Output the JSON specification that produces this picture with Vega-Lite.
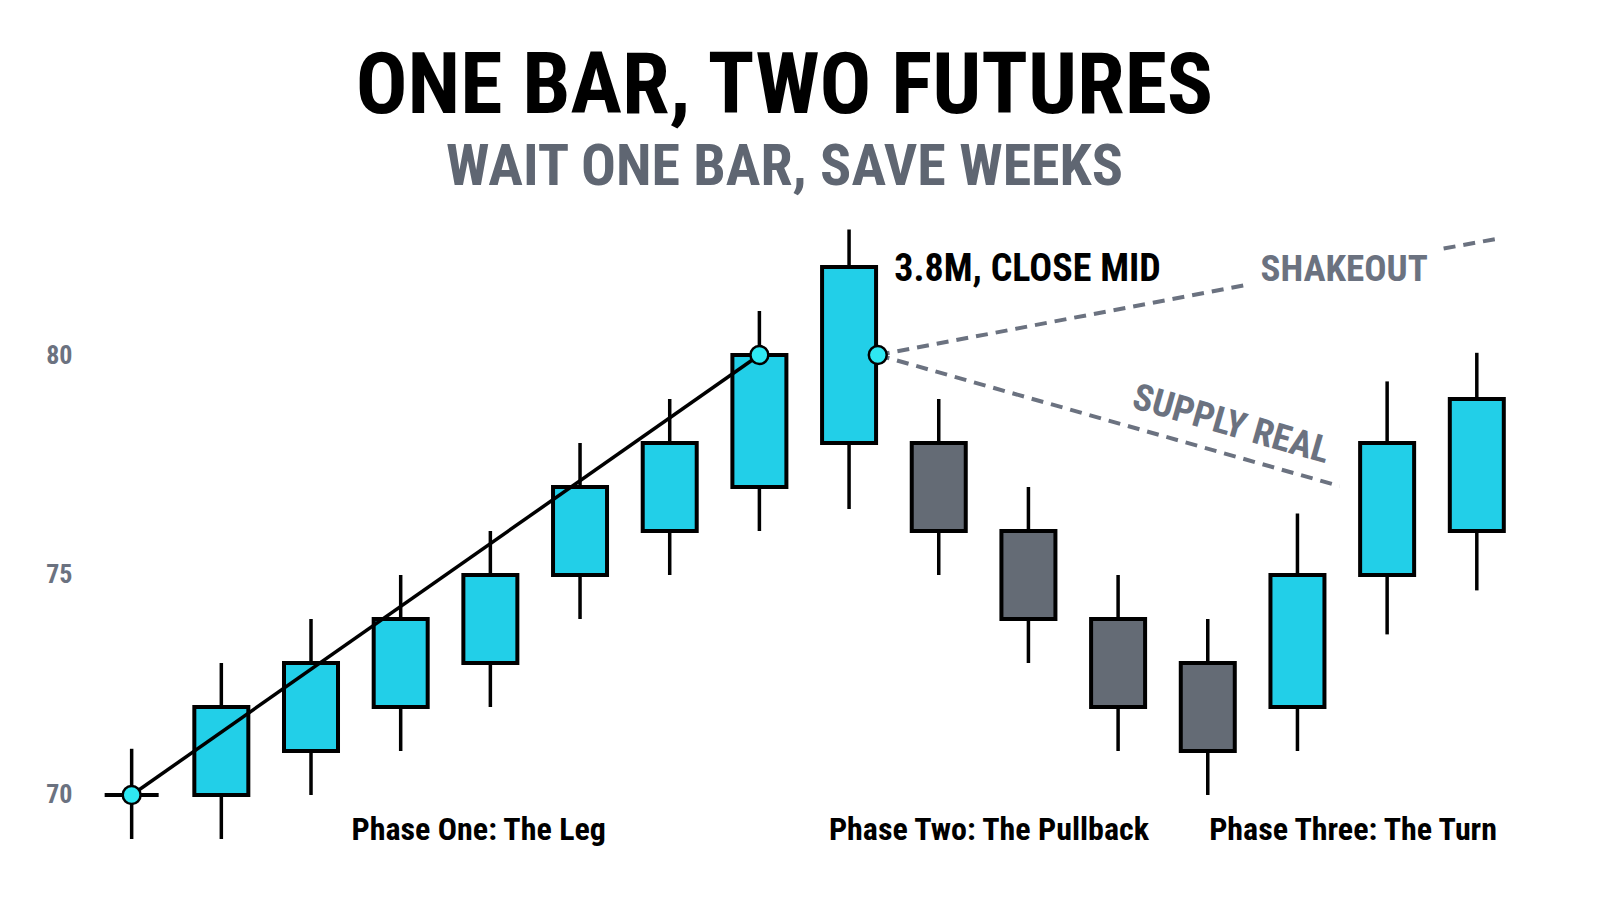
{
  "$schema": "https://vega.github.io/schema/vega-lite/v6.json",
  "width": 1525,
  "height": 714,
  "autosize": {"type": "none"},
  "padding": {"left": 75, "top": 200, "right": 0, "bottom": 0},
  "background": "white",
  "config": {
    "font": "Roboto Condensed, Liberation Sans Narrow, DejaVu Sans Condensed, Roboto, sans-serif",
    "view": {"stroke": null}
  },
  "title": {
    "text": "ONE BAR, TWO FUTURES",
    "subtitle": "WAIT ONE BAR, SAVE WEEKS",
    "anchor": "middle",
    "frame": "group",
    "dx": -53,
    "fontSize": 86,
    "fontWeight": "bold",
    "color": "#000000",
    "subtitleFontSize": 58,
    "subtitleFontWeight": "bold",
    "subtitleColor": "#5f6672",
    "subtitlePadding": 8,
    "offset": 2
  },
  "datasets": {
    "candles": [
      {"i": 0, "open": 70, "close": 70, "high": 71.05, "low": 69, "dir": "up"},
      {"i": 1, "open": 70, "close": 72, "high": 73, "low": 69, "dir": "up"},
      {"i": 2, "open": 71, "close": 73, "high": 74, "low": 70, "dir": "up"},
      {"i": 3, "open": 72, "close": 74, "high": 75, "low": 71, "dir": "up"},
      {"i": 4, "open": 73, "close": 75, "high": 76, "low": 72, "dir": "up"},
      {"i": 5, "open": 75, "close": 77, "high": 78, "low": 74, "dir": "up"},
      {"i": 6, "open": 76, "close": 78, "high": 79, "low": 75, "dir": "up"},
      {"i": 7, "open": 77, "close": 80, "high": 81, "low": 76, "dir": "up"},
      {"i": 8, "open": 78, "close": 82, "high": 82.85, "low": 76.5, "dir": "up"},
      {"i": 9, "open": 78, "close": 76, "high": 79, "low": 75, "dir": "down"},
      {"i": 10, "open": 76, "close": 74, "high": 77, "low": 73, "dir": "down"},
      {"i": 11, "open": 74, "close": 72, "high": 75, "low": 71, "dir": "down"},
      {"i": 12, "open": 73, "close": 71, "high": 74, "low": 70, "dir": "down"},
      {"i": 13, "open": 72, "close": 75, "high": 76.4, "low": 71, "dir": "up"},
      {"i": 14, "open": 75, "close": 78, "high": 79.4, "low": 73.65, "dir": "up"},
      {"i": 15, "open": 76, "close": 79, "high": 80.05, "low": 74.65, "dir": "up"}
    ],
    "leg": [
      {"i": 0, "v": 70},
      {"i": 7, "v": 80}
    ],
    "paths": [
      {"seg": "shake1", "i": 8.32, "v": 80},
      {"seg": "shake1", "i": 12.45, "v": 81.6},
      {"seg": "shake2", "i": 14.63, "v": 82.42},
      {"seg": "shake2", "i": 15.28, "v": 82.66},
      {"seg": "supply", "i": 8.32, "v": 80},
      {"seg": "supply", "i": 13.47, "v": 77.02}
    ],
    "dots": [
      {"i": 0, "v": 70},
      {"i": 7, "v": 80},
      {"i": 8.32, "v": 80}
    ],
    "labels": [
      {"text": "3.8M, CLOSE MID", "i": 9.99, "v": 81.93, "angle": 0, "color": "#000000", "size": 38},
      {"text": "SHAKEOUT", "i": 13.52, "v": 81.93, "angle": 0, "color": "#6b7280", "size": 37},
      {"text": "SUPPLY REAL", "i": 12.26, "v": 78.41, "angle": 16, "color": "#6b7280", "size": 37},
      {"text": "Phase One: The Leg", "i": 3.87, "v": 69.2, "angle": 0, "color": "#000000", "size": 32},
      {"text": "Phase Two: The Pullback", "i": 9.56, "v": 69.2, "angle": 0, "color": "#000000", "size": 32},
      {"text": "Phase Three: The Turn", "i": 13.62, "v": 69.2, "angle": 0, "color": "#000000", "size": 32}
    ]
  },
  "layer": [
    {
      "data": {"name": "candles"},
      "mark": {"type": "rule", "stroke": "#000000", "strokeWidth": 3.5},
      "encoding": {
        "x": {"field": "i", "type": "quantitative", "scale": {"domain": [-0.576, 16.318], "nice": false, "zero": false}, "axis": null},
        "y": {"field": "low", "type": "quantitative", "scale": {"domain": [67.295, 83.523], "nice": false, "zero": false},
          "axis": {"values": [70, 75, 80], "title": null, "domain": false, "ticks": false, "grid": false, "labelPadding": 3,
            "labelFontSize": 26, "labelFontWeight": "bold", "labelColor": "#6b7280"}},
        "y2": {"field": "high"}
      }
    },
    {
      "data": {"name": "candles"},
      "mark": {"type": "bar", "width": 54, "stroke": "#000000", "strokeWidth": 4},
      "encoding": {
        "x": {"field": "i", "type": "quantitative"},
        "y": {"field": "open", "type": "quantitative"},
        "y2": {"field": "close"},
        "fill": {"field": "dir", "type": "nominal", "scale": {"domain": ["up", "down"], "range": ["#22cfe8", "#646b75"]}, "legend": null}
      }
    },
    {
      "data": {"name": "leg"},
      "mark": {"type": "line", "stroke": "#000000", "strokeWidth": 3.5},
      "encoding": {
        "x": {"field": "i", "type": "quantitative"},
        "y": {"field": "v", "type": "quantitative"}
      }
    },
    {
      "data": {"name": "paths"},
      "mark": {"type": "line", "stroke": "#6b7280", "strokeWidth": 4, "strokeDash": [12, 8]},
      "encoding": {
        "x": {"field": "i", "type": "quantitative"},
        "y": {"field": "v", "type": "quantitative"},
        "detail": {"field": "seg", "type": "nominal"}
      }
    },
    {
      "data": {"name": "dots"},
      "mark": {"type": "point", "filled": true, "fill": "#2ee8f2", "stroke": "#000000", "strokeWidth": 2.5, "size": 320, "opacity": 1},
      "encoding": {
        "x": {"field": "i", "type": "quantitative"},
        "y": {"field": "v", "type": "quantitative"}
      }
    },
    {
      "data": {"name": "labels"},
      "mark": {"type": "text", "fontWeight": "bold", "align": "center", "baseline": "middle"},
      "encoding": {
        "x": {"field": "i", "type": "quantitative"},
        "y": {"field": "v", "type": "quantitative"},
        "text": {"field": "text"},
        "angle": {"field": "angle", "type": "quantitative", "scale": null},
        "color": {"field": "color", "type": "nominal", "scale": null},
        "size": {"field": "size", "type": "quantitative", "scale": null}
      }
    }
  ]
}
